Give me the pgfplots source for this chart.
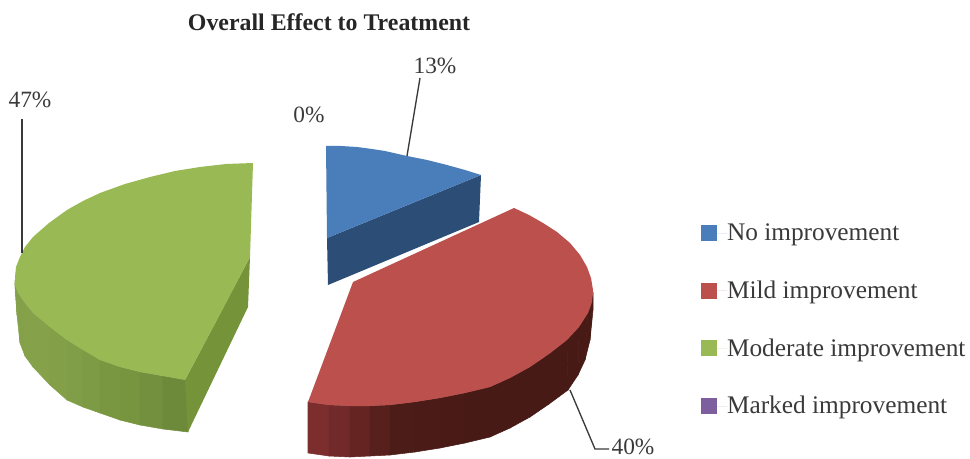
\documentclass[border=0pt]{standalone}
\usepackage{fontspec}
\setmainfont{Liberation Serif}
\usepackage{pgfplots}
\pgfplotsset{compat=1.18}
\definecolor{bluetop}{HTML}{4A7EBB}
\definecolor{bluewall}{HTML}{2C4D75}
\definecolor{redtop}{HTML}{BB504D}
\definecolor{greentop}{HTML}{98B954}
\definecolor{greenwall}{HTML}{759339}
\definecolor{purpletop}{HTML}{7D5FA0}
\definecolor{ink}{HTML}{3A3A3A}
\pgfplotsset{
  colormap={redw}{rgb255=(128,48,48) rgb255=(100,36,34) rgb255=(76,28,24) rgb255=(72,26,22)},
  colormap={greenw}{rgb255=(134,163,76) rgb255=(120,150,64) rgb255=(106,135,56)},
}
\begin{document}
\begin{tikzpicture}
\useasboundingbox (0,0) rectangle (727.5pt,344.25pt);
\begin{axis}[
  at={(0,0)}, anchor=south west,
  scale only axis, width=727.5pt, height=344.25pt,
  xmin=0, xmax=970, ymin=0, ymax=459, y dir=reverse,
  hide axis, clip=false,
  font=\fontsize{17.5}{20}\selectfont,
  legend style={at={(axis cs:701,224)}, anchor=north west, draw=none, fill=none,
    text=ink, row sep=28.6pt, inner sep=0pt, outer sep=0pt,
    font=\fontsize{19}{20}\selectfont,
    nodes={inner sep=0pt, outer sep=0pt}},
  legend cell align=left,
  legend image code/.code={
    \fill[#1] (0pt,-6pt) rectangle (12pt,6pt);
    \path (0pt,0pt) -- (19.5pt,0pt);
  },
]
% green slice
\addplot[surf, shader=flat, forget plot, colormap name=greenw, point meta=explicit, mesh/rows=2] table[meta=m] {
x y m
15 280 0.1
15 285 0.1
18 293 0.1
25 303 0.05
33 313 0
50 327 0.08
67 340 0.15
83 350 0.25
100 360 0.4
120 367 0.5
140 372 0.6
163 376 0.8
188 380 1
16 295 0.1
17 315 0.1
20 343 0.1
25 356 0.05
33 367 0
50 385 0.08
67 400 0.15
83 407 0.25
100 413 0.4
120 420 0.5
140 425 0.6
163 429 0.8
188 432 1
};
\addplot[fill=greenwall, draw=none, forget plot] coordinates {
(185,380) (188,432) (248,307) (250,257) };
% blue slice
\addplot[fill=bluewall, draw=none, forget plot] coordinates {
(481,175) (479,222) (328,285) (327,238) };
% red wall
\addplot[surf, shader=flat, forget plot, colormap name=redw, point meta=explicit, mesh/rows=2] table[meta=m] {
x y m
308 402 0
329 405 0.1
350 406 0.25
370 406 0.4
390 405 0.6
415 402 0.75
440 398 0.9
465 393 0.95
490 387 1
510 378 1
530 367 1
549 354 1
567 340 1
579 327 1
588 313 1
592 302 1
593 292 1
308 453 0
329 456 0.1
350 457 0.25
370 456 0.4
390 455 0.6
415 452 0.75
440 448 0.9
465 443 0.95
490 437 1
510 428 1
530 417 1
549 404 1
568 390 1
578 375 1
585 360 1
590 340 1
593 310 1
};
% top faces, these carry the legend
\addplot[fill=bluetop, draw=none] coordinates {
(326,146) (341,146) (357,147) (372,149) (385,151) (407,156) (427,160) (447,165)
(465,170) (481,175) (327,238) };
\addlegendentry{No improvement}
\addplot[fill=redtop, draw=none] coordinates {
(514,208) (529,215) (543,223) (557,232) (570,243) (580,255) (587,267) (591,278)
(593,290) (592,302) (588,313) (579,327) (567,340) (549,354) (530,367) (510,378)
(490,387) (465,393) (440,398) (415,402) (390,405) (370,406) (350,406) (329,405)
(308,402) (353,282) };
\addlegendentry{Mild improvement}
\addplot[fill=greentop, draw=none] coordinates {
(253,163) (226,164) (200,167) (175,171) (150,177) (125,184) (100,193) (83,201)
(67,210) (49,223) (33,237) (25,247) (20,257) (16,267) (15,277) (15,285) (18,293)
(25,303) (33,313) (50,327) (67,340) (83,350) (100,360) (120,367) (140,372)
(163,376) (185,380) (217,320) (250,257) };
\addlegendentry{Moderate improvement}
\addplot[fill=purpletop, draw=none] coordinates { (327,238) };
\addlegendentry{Marked improvement}
% leader lines
\addplot[ink, line width=1.1pt, forget plot] coordinates { (22,119) (22,253) };
\addplot[ink, line width=1pt, forget plot] coordinates { (420,78) (407,156) };
\addplot[ink, line width=1pt, forget plot] coordinates { (570,390) (595,449) (609,449) };
\node[text=ink] at (axis cs:30,100) {47\%};
\node[text=ink] at (axis cs:309,115) {0\%};
\node[text=ink] at (axis cs:435,66) {13\%};
\node[text=ink, inner sep=0pt] at (axis cs:633,447) {40\%};
\node[text=black!85, font=\fontsize{17.9}{20}\bfseries\selectfont] at (axis cs:329,22) {Overall Effect to Treatment};
\end{axis}
\end{tikzpicture}
\end{document}
